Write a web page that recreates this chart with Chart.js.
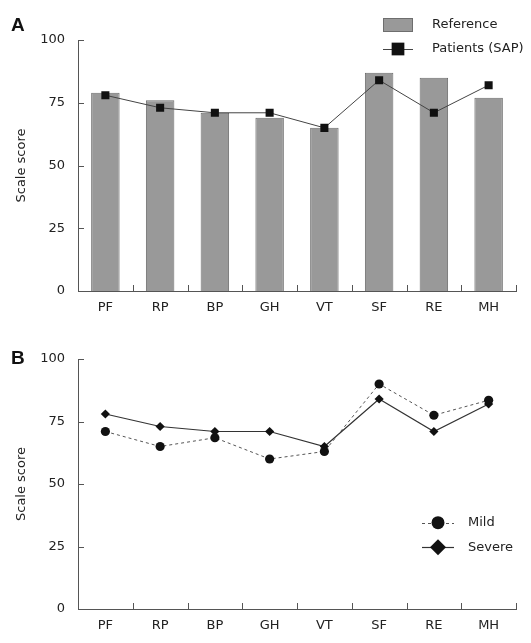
<!DOCTYPE html>
<html>
<head>
<meta charset="utf-8">
<script src="https://cdn.jsdelivr.net/npm/chart.js@4.4.1/dist/chart.umd.min.js"></script>
<style>
  body { margin: 0; background: #fff; }
  #wrap { position: relative; width: 531px; height: 643px; }
  canvas { position: absolute; left: 0; }
  .tag { position: absolute; left: 11px; font: bold 19px "Liberation Sans", Arial, sans-serif; color: #111; line-height: 22px; }
</style>
</head>
<body>
<div id="wrap">
  <canvas id="chartA" width="531" height="320" style="top:0"></canvas>
  <canvas id="chartB" width="531" height="323" style="top:320px"></canvas>
  <div class="tag" style="top:14px">A</div>
  <div class="tag" style="top:347px">B</div>
</div>
<script>
// SF-36 domains
const domains = ['PF', 'RP', 'BP', 'GH', 'VT', 'SF', 'RE', 'MH'];
const referenceScores = [79, 76, 71, 69, 65, 87, 85, 77];
const sapScores = [78, 73, 71, 71, 65, 84, 71, 82];
const mildScores = [71, 65, 68.5, 60, 63, 90, 77.5, 83.5];
const severeScores = [78, 73, 71, 71, 65, 84, 71, 82];
const yTicks = [0, 25, 50, 75, 100];

const textColor = '#222';
const axisColor = '#555';
const font = { family: '"DejaVu Sans", Verdana, sans-serif', size: 13 };

// small tick marks pointing into the plot
const innerTicks = {
  id: 'innerTicks',
  afterDraw(chart) {
    const { ctx, chartArea: a } = chart;
    const x = chart.scales.x, y = chart.scales.y;
    ctx.save();
    ctx.strokeStyle = axisColor;
    ctx.lineWidth = 1;
    ctx.beginPath();
    y.ticks.forEach(t => {
      if (t.value === 0) return;
      const py = Math.round(y.getPixelForValue(t.value)) + 0.5;
      ctx.moveTo(a.left, py);
      ctx.lineTo(a.left + 6, py);
    });
    for (let i = 0; i < domains.length; i++) {
      const px = Math.round(x.getPixelForValue(i + 0.5)) + 0.5;
      ctx.moveTo(px, a.bottom);
      ctx.lineTo(px, a.bottom - 6);
    }
    ctx.stroke();
    ctx.restore();
  }
};

function drawMarker(ctx, style, cx, cy, r) {
  ctx.beginPath();
  if (style === 'rect') {
    const s = r * Math.SQRT1_2;
    ctx.rect(cx - s, cy - s, 2 * s, 2 * s);
  } else if (style === 'rectRot') {
    ctx.moveTo(cx, cy - r); ctx.lineTo(cx + r, cy);
    ctx.lineTo(cx, cy + r); ctx.lineTo(cx - r, cy);
    ctx.closePath();
  } else {
    ctx.arc(cx, cy, r, 0, Math.PI * 2);
  }
  ctx.fill();
}

// legend drawn from the datasets' own styles
const sideLegend = {
  id: 'sideLegend',
  afterDraw(chart, args, opts) {
    const ctx = chart.ctx;
    ctx.save();
    ctx.font = `${font.size}px ${font.family}`;
    ctx.textBaseline = 'middle';
    opts.items.forEach((item, k) => {
      const ds = chart.data.datasets[item.index];
      const cy = opts.y + k * opts.gap;
      if (ds.type === 'bar') {
        ctx.fillStyle = ds.backgroundColor;
        ctx.strokeStyle = ds.borderColor;
        ctx.lineWidth = 1;
        ctx.fillRect(opts.left, cy - 7, opts.right - opts.left, 14);
        ctx.strokeRect(opts.left + 0.5, cy - 6.5, opts.right - opts.left - 1, 13);
      } else {
        ctx.strokeStyle = ds.borderColor;
        ctx.lineWidth = ds.borderWidth;
        ctx.setLineDash(ds.borderDash || []);
        ctx.beginPath();
        ctx.moveTo(opts.left, Math.round(cy) + 0.5);
        ctx.lineTo(opts.right, Math.round(cy) + 0.5);
        ctx.stroke();
        ctx.setLineDash([]);
        ctx.fillStyle = ds.pointBackgroundColor;
        drawMarker(ctx, ds.pointStyle, (opts.left + opts.right) / 2, cy, item.radius);
      }
      ctx.fillStyle = textColor;
      ctx.fillText(ds.label, opts.textX, cy);
    });
    ctx.restore();
  }
};

function baseOptions(padTop, xHeight, legend) {
  return {
    responsive: false,
    animation: false,
    layout: { padding: { top: padTop, right: 15, left: 0, bottom: 0 } },
    plugins: { legend: { display: false }, tooltip: { enabled: false }, sideLegend: legend },
    scales: {
      x: {
        offset: true,
        grid: { display: false, drawTicks: false, offset: true },
        border: { color: axisColor, width: 1 },
        ticks: { color: textColor, font: font, padding: 9, maxRotation: 0 },
        afterFit: s => { s.height = xHeight; }
      },
      y: {
        min: 0,
        max: 100,
        grid: { display: false, drawTicks: false },
        border: { color: axisColor, width: 1 },
        ticks: { color: textColor, font: font, padding: 13 },
        afterBuildTicks: s => { s.ticks = yTicks.map(v => ({ value: v })); },
        afterFit: s => { s.width = 78; },
        title: { display: true, text: 'Scale score', color: textColor, font: font, padding: { top: 14, bottom: 0 } }
      }
    }
  };
}

new Chart(document.getElementById('chartA'), {
  type: 'bar',
  data: {
    labels: domains,
    datasets: [
      {
        type: 'bar',
        label: 'Reference',
        data: referenceScores,
        backgroundColor: '#999999',
        borderColor: '#6e6e6e',
        borderWidth: 1,
        barPercentage: 0.52,
        categoryPercentage: 1,
        order: 1
      },
      {
        type: 'line',
        label: 'Patients (SAP)',
        data: sapScores,
        borderColor: '#444',
        borderWidth: 1,
        tension: 0,
        pointStyle: 'rect',
        pointRadius: 5.7,
        pointBackgroundColor: '#111',
        pointBorderColor: '#111',
        pointBorderWidth: 0,
        order: 0
      }
    ]
  },
  options: baseOptions(40, 29, {
    items: [{ index: 0 }, { index: 1, radius: 9 }],
    left: 383, right: 413, textX: 432, y: 25, gap: 24
  }),
  plugins: [innerTicks, sideLegend]
});

new Chart(document.getElementById('chartB'), {
  type: 'line',
  data: {
    labels: domains,
    datasets: [
      {
        label: 'Mild',
        data: mildScores,
        borderColor: '#555',
        borderWidth: 1,
        borderDash: [3, 3],
        tension: 0,
        pointStyle: 'circle',
        pointRadius: 4.6,
        pointBackgroundColor: '#111',
        pointBorderColor: '#111',
        pointBorderWidth: 0
      },
      {
        label: 'Severe',
        data: severeScores,
        borderColor: '#333',
        borderWidth: 1.2,
        tension: 0,
        pointStyle: 'rectRot',
        pointRadius: 4.6,
        pointBackgroundColor: '#111',
        pointBorderColor: '#111',
        pointBorderWidth: 0
      }
    ]
  },
  options: baseOptions(39, 34, {
    items: [{ index: 0, radius: 6.5 }, { index: 1, radius: 8 }],
    left: 422, right: 454, textX: 468, y: 202.7, gap: 24.5
  }),
  plugins: [innerTicks, sideLegend]
});
</script>
</body>
</html>
